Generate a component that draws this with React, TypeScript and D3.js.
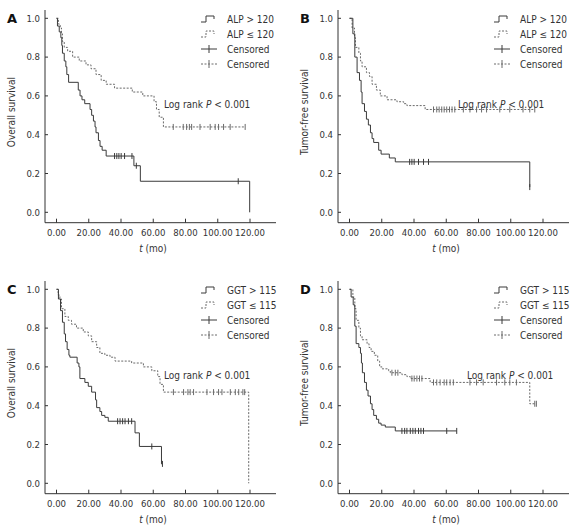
import React from "react";
import * as d3 from "d3";

type Step = [number, number];

// ---------- Data (t in months, survival probability) ----------
const xTicks = [0, 20, 40, 60, 80, 100, 120];
const yTicks = [0, 0.2, 0.4, 0.6, 0.8, 1.0];
const logRankText = "Log rank ";

// Panel A: Overall survival by ALP
const aHighSteps: Step[] = [
  [0, 1.0], [0.6, 0.96], [1.7, 0.93], [2.7, 0.9], [3.3, 0.86], [3.7, 0.82], [4.8, 0.78],
  [5.8, 0.75], [6.4, 0.71], [7.5, 0.67], [13.5, 0.63], [14.6, 0.6], [15.8, 0.58], [17.5, 0.56],
  [20.8, 0.53], [21.8, 0.5], [22.9, 0.47], [23.9, 0.44], [24.5, 0.41], [26, 0.37], [27, 0.34],
  [28.3, 0.32], [30.8, 0.29], [48, 0.24], [52, 0.16], [119.8, 0.0],
];
const aHighCens = [36, 37.4, 38.7, 40.1, 42.2, 46.8, 49.5, 112.7];
const aLowSteps: Step[] = [
  [0, 1.0], [1.2, 0.97], [2.3, 0.95], [3.1, 0.92], [3.7, 0.88], [4.8, 0.85], [6.9, 0.83],
  [10, 0.8], [14.1, 0.78], [18.3, 0.76], [21.4, 0.74], [24.5, 0.71], [27.7, 0.68], [30.8, 0.66],
  [36, 0.64], [47, 0.62], [53.5, 0.6], [60.5, 0.57], [62, 0.53], [63.7, 0.49], [66.3, 0.44],
];
const aLowCens = [72.4, 78.6, 80.7, 82.4, 83.8, 89, 95.3, 98.4, 100.5, 103.6, 107.7, 117];

// Panel B: Tumor-free survival by ALP
const bHighSteps: Step[] = [
  [0, 1.0], [2.1, 0.92], [3.3, 0.8], [4.7, 0.72], [6.2, 0.68], [7.2, 0.62], [7.8, 0.56],
  [9.3, 0.52], [10.5, 0.48], [11.7, 0.45], [13, 0.41], [14, 0.38], [15, 0.36], [18.1, 0.32],
  [19.6, 0.3], [24.7, 0.28], [28.4, 0.26], [111.8, 0.13],
];
const bHighCens = [37.3, 38.7, 40.1, 42.8, 45.9, 49, 111.8];
const bLowSteps: Step[] = [
  [0, 1.0], [1.6, 0.95], [3.1, 0.9], [3.7, 0.85], [5.8, 0.82], [6.8, 0.78], [7.8, 0.75],
  [10.5, 0.72], [12.4, 0.7], [14, 0.66], [16.7, 0.63], [19.1, 0.6], [23.3, 0.58], [29.4, 0.57],
  [33.6, 0.56], [35.6, 0.55], [46.9, 0.53],
];
const bLowCens = [52.1, 54.1, 55.6, 57.2, 58.7, 60.3, 62, 63.6, 65.3, 70.6, 74.7, 78.8, 81.9, 85,
  93.2, 99.4, 107.6, 111.8, 114.9];

// Panel C: Overall survival by GGT
const cHighSteps: Step[] = [
  [0, 1.0], [1.2, 0.95], [2.5, 0.89], [3.7, 0.83], [4.8, 0.77], [5.6, 0.73], [6.6, 0.69],
  [7.7, 0.66], [8.3, 0.65], [12.8, 0.62], [13.9, 0.6], [14.5, 0.54], [17.6, 0.52], [19.7, 0.5],
  [21.8, 0.47], [24.2, 0.43], [24.9, 0.39], [26.9, 0.37], [28, 0.35], [30, 0.34], [32.1, 0.32],
  [48.7, 0.26], [51.4, 0.19], [65.1, 0.1],
];
const cHighCens = [37.9, 39.4, 41, 42.5, 44.6, 46.6, 59.1, 65.7];
const cLowSteps: Step[] = [
  [0, 1.0], [1, 0.97], [2.1, 0.95], [3.1, 0.9], [5.2, 0.86], [7.3, 0.84], [9.3, 0.82],
  [12.4, 0.8], [16.6, 0.78], [19.7, 0.76], [21.8, 0.73], [24.9, 0.7], [26.9, 0.67], [30, 0.66],
  [33.2, 0.65], [36.3, 0.63], [46.6, 0.62], [53.9, 0.6], [59.1, 0.58], [62.8, 0.55], [64.2, 0.51],
  [66.3, 0.47], [119.2, 0.0],
];
const cLowCens = [72.5, 78.8, 81.5, 82.9, 85, 93.3, 97.4, 100.5, 102.6, 107.8, 110.9, 113, 115.6, 116.7];

// Panel D: Tumor-free survival by GGT
const dHighSteps: Step[] = [
  [0, 1.0], [1, 0.96], [2.3, 0.92], [3.3, 0.81], [4.1, 0.72], [5.8, 0.7], [6.8, 0.67],
  [7.4, 0.62], [8, 0.57], [9.3, 0.52], [10.5, 0.48], [11.5, 0.45], [13, 0.41], [14, 0.38],
  [15, 0.35], [16.7, 0.33], [18.1, 0.31], [19.6, 0.3], [22.2, 0.29], [28.4, 0.27],
];
const dHighCens = [32.5, 34.2, 35.6, 37.7, 39.3, 40.8, 42.8, 44.3, 45.9, 60.3, 66.5];
const dLowSteps: Step[] = [
  [0, 1.0], [2.1, 0.96], [3.3, 0.9], [4.1, 0.84], [5.8, 0.8], [6.8, 0.76], [7.8, 0.74],
  [10.9, 0.72], [12.1, 0.7], [13.4, 0.68], [15.4, 0.66], [17.5, 0.63], [18.7, 0.6], [20.2, 0.59],
  [24.3, 0.58], [25.3, 0.57], [32.5, 0.56], [35.6, 0.55], [37.7, 0.54], [50, 0.52], [111.8, 0.41],
];
const dLowCens = [26.3, 28.4, 30, 38.7, 40.1, 41.8, 43.4, 44.9, 52.1, 54.1, 56.2, 58.7, 60.3, 62.4,
  64.4, 74.7, 78.8, 82.9, 91.2, 96.3, 99.4, 103.5, 114.9, 115.9];

// ---------- Drawing ----------
const FONT = "'DejaVu Sans Condensed', 'DejaVu Sans', sans-serif";
const INK = "#333";
const SOLID = "#3a3a3a";
const DASH = "#6a6a6a";

function valueAt(steps: Step[], t: number) {
  let v = steps[0][1];
  for (const [st, sv] of steps) if (st <= t) v = sv;
  return v;
}

interface PanelProps {
  letter: string;
  yTitle: string;
  highLabel: string;
  lowLabel: string;
  highSteps: Step[];
  highCens: number[];
  lowSteps: Step[];
  lowCens: number[];
  logX: number;
  ox: number;
  oy: number;
}

function Curve({ steps, cens, x, y, color, dash }: any) {
  const lastStep = steps[steps.length - 1][0];
  const lastCens = cens.length ? cens[cens.length - 1] : 0;
  const end = Math.max(lastStep, lastCens);
  const pts: Step[] = [...steps, [end, steps[steps.length - 1][1]]];
  const line = d3
    .line<Step>()
    .x((d) => x(d[0]))
    .y((d) => y(d[1]))
    .curve(d3.curveStepAfter);
  return (
    <g>
      <path d={line(pts) || ""} fill="none" stroke={color} strokeWidth={1} strokeDasharray={dash} />
      {cens.map((c: number, i: number) => {
        const cx = x(c);
        const cy = y(valueAt(steps, c));
        return <line key={i} x1={cx} x2={cx} y1={cy - 3} y2={cy + 3} stroke={color} strokeWidth={1} />;
      })}
    </g>
  );
}

function Panel(p: PanelProps) {
  const x = d3.scaleLinear().domain([0, 120]).range([56.5, 250]);
  const y = d3.scaleLinear().domain([0, 1]).range([212.3, 18.3]);
  const axX = 45;
  const axY = 222.7;
  const fmtX = d3.format(".2f");
  const fmtY = d3.format(".1f");
  const lx = 201;
  const legRows = [19, 34, 49, 64];
  return (
    <g transform={`translate(${p.ox},${p.oy})`} fontFamily={FONT}>
      <text x={7} y={23} fontSize={13} fontWeight="bold" fill="#111" fontFamily="'DejaVu Sans', sans-serif">
        {p.letter}
      </text>
      {/* axes */}
      <line x1={axX} x2={axX} y1={10} y2={axY} stroke={INK} strokeWidth={1} />
      <line x1={axX} x2={276} y1={axY} y2={axY} stroke={INK} strokeWidth={1} />
      {yTicks.map((t) => (
        <g key={t}>
          <line x1={axX} x2={axX + 3} y1={y(t)} y2={y(t)} stroke={INK} />
          <text x={axX - 5} y={y(t)} dy="0.35em" textAnchor="end" fontSize={9.5} fill={INK}>
            {fmtY(t)}
          </text>
        </g>
      ))}
      {xTicks.map((t) => (
        <g key={t}>
          <line x1={x(t)} x2={x(t)} y1={axY} y2={axY - 4} stroke={INK} />
          <text x={x(t)} y={axY + 13} textAnchor="middle" fontSize={9.5} fill={INK}>
            {fmtX(t)}
          </text>
        </g>
      ))}
      <text
        transform={`translate(15,${112}) rotate(-90)`}
        textAnchor="middle"
        fontSize={10}
        fill={INK}
      >
        {p.yTitle}
      </text>
      <text x={153} y={252} textAnchor="middle" fontSize={10} fill={INK}>
        <tspan fontStyle="italic">t</tspan> (mo)
      </text>
      {/* curves */}
      <Curve steps={p.lowSteps} cens={p.lowCens} x={x} y={y} color={DASH} dash="2,1.5" />
      <Curve steps={p.highSteps} cens={p.highCens} x={x} y={y} color={SOLID} dash={null} />
      <text x={p.logX} y={104} dy="0.35em" fontSize={10} fill={INK}>
        {logRankText}
        <tspan fontStyle="italic">P</tspan> {"< 0.001"}
      </text>
      {/* legend */}
      <path
        d={`M${lx},${legRows[0] + 3}h5v-6h8v3`}
        fill="none"
        stroke={SOLID}
      />
      <path
        d={`M${lx},${legRows[1] + 3}h5v-6h8v3`}
        fill="none"
        stroke={DASH}
        strokeDasharray="2,1.5"
      />
      <line x1={lx} x2={lx + 16} y1={legRows[2]} y2={legRows[2]} stroke={SOLID} />
      <line x1={lx + 8} x2={lx + 8} y1={legRows[2] - 4} y2={legRows[2] + 4} stroke={SOLID} />
      <line x1={lx} x2={lx + 16} y1={legRows[3]} y2={legRows[3]} stroke={DASH} strokeDasharray="2,1.5" />
      <line x1={lx + 8} x2={lx + 8} y1={legRows[3] - 4} y2={legRows[3] + 4} stroke={DASH} />
      {[p.highLabel, p.lowLabel, "Censored", "Censored"].map((s, i) => (
        <text key={i} x={227} y={legRows[i]} dy="0.35em" fontSize={10} fill={INK}>
          {s}
        </text>
      ))}
    </g>
  );
}

export default function App() {
  return (
    <svg width={580} height={531} style={{ position: "absolute", left: 0, top: 0, background: "#fff" }}>
      <rect width={580} height={531} fill="#fff" />
      <Panel letter="A" yTitle="Overall survival" highLabel="ALP > 120" lowLabel="ALP ≤ 120"
        highSteps={aHighSteps} highCens={aHighCens} lowSteps={aLowSteps} lowCens={aLowCens}
        logX={164} ox={0} oy={0} />
      <Panel letter="B" yTitle="Tumor-free survival" highLabel="ALP > 120" lowLabel="ALP ≤ 120"
        highSteps={bHighSteps} highCens={bHighCens} lowSteps={bLowSteps} lowCens={bLowCens}
        logX={165} ox={293} oy={0} />
      <Panel letter="C" yTitle="Overall survival" highLabel="GGT > 115" lowLabel="GGT ≤ 115"
        highSteps={cHighSteps} highCens={cHighCens} lowSteps={cLowSteps} lowCens={cLowCens}
        logX={164} ox={0} oy={271} />
      <Panel letter="D" yTitle="Tumor-free survival" highLabel="GGT > 115" lowLabel="GGT ≤ 115"
        highSteps={dHighSteps} highCens={dHighCens} lowSteps={dLowSteps} lowCens={dLowCens}
        logX={174} ox={293} oy={271} />
    </svg>
  );
}
